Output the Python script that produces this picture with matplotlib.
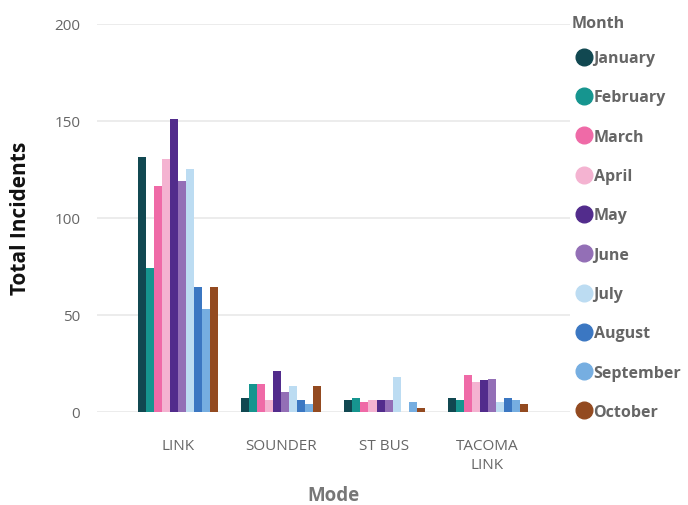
import matplotlib
matplotlib.use("Agg")
import matplotlib.pyplot as plt
import numpy as np
from matplotlib.lines import Line2D

plt.rcParams['font.family'] = ['Open Sans', 'DejaVu Sans']

modes = ["LINK", "SOUNDER", "ST BUS", "TACOMA\nLINK"]
months = ["January", "February", "March", "April", "May", "June",
          "July", "August", "September", "October"]
colors = ["#114851", "#16958F", "#EF6AA7", "#F4B3D1", "#522C8C",
          "#936FB6", "#BCDCF2", "#3B77C2", "#76AEE1", "#934A20"]

# values[month] = [LINK, SOUNDER, ST BUS, TACOMA LINK]
january   = [131, 7, 6, 7]
february  = [74, 14, 7, 6]
march     = [116, 14, 5, 19]
april     = [130, 6, 6, 15]
may       = [151, 21, 6, 16]
june      = [119, 10, 6, 17]
july      = [125, 13, 18, 5]
august    = [64, 6, 0, 7]
september = [53, 4, 5, 6]
october   = [64, 13, 2, 4]
values = [january, february, march, april, may, june, july, august, september, october]

yticks = [0, 50, 100, 150, 200]

fig = plt.figure(figsize=(6.88, 5.06), dpi=100)
ax = fig.add_axes([97/688, 1 - 412.5/506, (570-97)/688, (412.5-24.5)/506])

x = np.arange(len(modes))
bw = 0.0777
n = len(months)
for i, (m, c, v) in enumerate(zip(months, colors, values)):
    ax.bar(x + (i - (n - 1) / 2) * bw, v, width=bw, color=c, label=m, zorder=3)

ax.set_ylim(0, 200)
ax.set_xlim(-0.79, 3.8)
ax.set_yticks(yticks)
ax.set_yticklabels([str(t) for t in yticks])
ax.set_xticks(x)
ax.set_xticklabels(modes, linespacing=1.4)
ax.grid(axis='y', color='#E9E9E9', linewidth=1.2, zorder=0)
for s in ax.spines.values():
    s.set_visible(False)
ax.tick_params(axis='both', length=0, colors='#666666', labelsize=11)
ax.tick_params(axis='y', pad=12)
ax.tick_params(axis='x', pad=19)
ax.set_ylabel("Total Incidents", fontsize=15, fontweight='bold', color='#111111', labelpad=17)
ax.set_xlabel("Mode", fontsize=13.5, fontweight='bold', color='#777777', labelpad=9)

handles = [Line2D([0], [0], marker='o', linestyle='none', markersize=12,
                  markerfacecolor=c, markeredgecolor=c) for c in colors]
leg = fig.legend(handles, months, loc='upper left',
                 bbox_to_anchor=(564/688, 1 - 40/506), frameon=False,
                 fontsize=11.5, labelspacing=1.46,
                 handletextpad=0.0, handlelength=1.15, borderpad=0.2)
for t in leg.get_texts():
    t.set_color('#666666')
    t.set_fontweight('bold')
fig.text(572/688, 1 - 23.5/506, "Month", ha='left', va='center',
         fontsize=11.5, fontweight='bold', color='#666666')

fig.savefig("out.png", dpi=100)
